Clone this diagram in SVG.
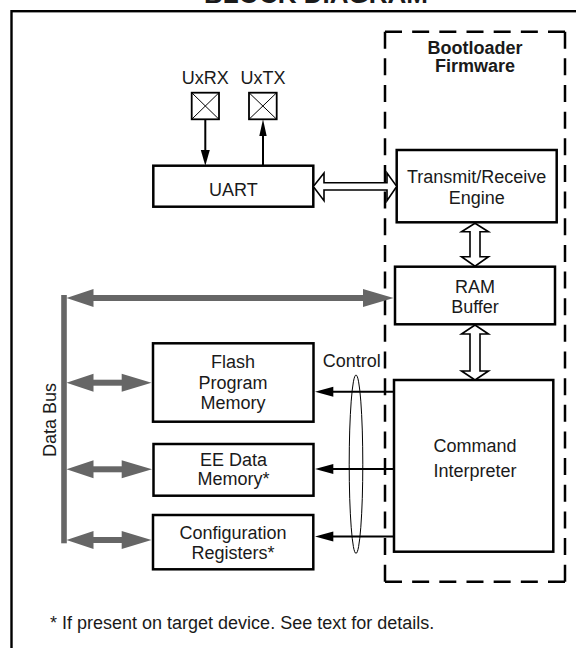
<svg xmlns="http://www.w3.org/2000/svg" width="576" height="648" viewBox="0 0 576 648">
<style>
text{font-family:"Liberation Sans",Arial,sans-serif;font-size:18px;fill:#1a1a1a;text-anchor:middle}
.b{font-weight:bold}
.box{fill:#fff;stroke:#000;stroke-width:2.5}
.pin{fill:#fff;stroke:#000;stroke-width:1.8}
.x{stroke:#000;stroke-width:1}
.ln{stroke:#000;stroke-width:2;fill:none}
.hol{fill:#fff;stroke:#000;stroke-width:1.6;stroke-linejoin:miter}
.gray{fill:#666;stroke:none}
.dash{fill:none;stroke:#000;stroke-width:2.5}
</style>
<rect width="576" height="648" fill="#fff"/>
<text class="b" x="316" y="3" style="font-size:26px">BLOCK DIAGRAM</text>
<rect x="11.5" y="11.2" width="620" height="700" fill="none" stroke="#000" stroke-width="2.4"/>

<g id="bootloader">
<path class="dash" d="M385 31.7H565" stroke-dasharray="17 10.17"/>
<path class="dash" d="M565 31.7V581.7" stroke-dasharray="17 9.65"/>
<path class="dash" d="M565 581.7H385" stroke-dasharray="17 10.17"/>
<path class="dash" d="M385 581.7V31.7" stroke-dasharray="17 9.65"/>
<text class="b" x="475" y="53.5">Bootloader</text>
<text class="b" x="475" y="72">Firmware</text>
</g>

<g id="uxrx">
<rect class="pin" x="191.7" y="92.7" width="27.3" height="26.6"/>
<path class="x" d="M191.7 92.7L219 119.3M219 92.7L191.7 119.3"/>
<text x="205.3" y="83.5">UxRX</text>
</g>
<g id="uxtx">
<rect class="pin" x="249" y="92.7" width="27.7" height="26.6"/>
<path class="x" d="M249 92.7L276.7 119.3M276.7 92.7L249 119.3"/>
<text x="263" y="83.5">UxTX</text>
</g>

<g id="uart">
<rect class="box" x="153.3" y="165.7" width="160" height="41"/>
<text x="233.3" y="195.5">UART</text>
</g>

<g id="txrx">
<rect class="box" x="396.7" y="150" width="160" height="72.3"/>
<text x="476.7" y="182.5">Transmit/Receive</text>
<text x="476.7" y="204">Engine</text>
</g>

<g id="ram">
<rect class="box" x="395" y="266.7" width="160" height="57.6"/>
<text x="475" y="293.3">RAM</text>
<text x="475" y="312.7">Buffer</text>
</g>

<g id="cmd">
<rect class="box" x="394" y="380" width="159.3" height="171.7"/>
<text x="475" y="452">Command</text>
<text x="475" y="476.7">Interpreter</text>
</g>

<g id="flash">
<rect class="box" x="153" y="343.3" width="160.5" height="78.4"/>
<text x="233" y="368">Flash</text>
<text x="233" y="389">Program</text>
<text x="233" y="408.5">Memory</text>
</g>

<g id="eedata">
<rect class="box" x="153.5" y="444" width="160" height="51.7"/>
<text x="233.5" y="465.7">EE Data</text>
<text x="233.5" y="485.3">Memory*</text>
</g>

<g id="config">
<rect class="box" x="153" y="515" width="160.3" height="54.3"/>
<text x="233" y="538.5">Configuration</text>
<text x="233" y="558.5">Registers*</text>
</g>

<g id="databus">
<rect class="gray" x="61.2" y="295" width="5.6" height="248.3"/>
<text transform="translate(55.5 420) rotate(-90)">Data Bus</text>
</g>

<g id="connectors">
<!-- pin arrows -->
<path class="ln" d="M205.3 119.3V152"/>
<polygon points="200.8,150 209.8,150 205.3,165.7" fill="#000"/>
<path class="ln" d="M263 165.7V134"/>
<polygon points="259.3,136 266.7,136 263,119.3" fill="#000"/>

<!-- hollow arrow UART <-> Transmit/Receive -->
<polygon class="hol" points="313.3,186.4 324,173 324,182.7 387,182.7 387,173 396.7,186.4 387,200.7 387,190 324,190 324,200.7"/>

<!-- hollow arrow Transmit/Receive <-> RAM -->
<polygon class="hol" points="475,223.3 488.5,231.7 480,231.7 480,256.7 488.5,256.7 475,266.2 461.5,256.7 470,256.7 470,231.7 461.5,231.7"/>
<!-- hollow arrow RAM <-> Command -->
<polygon class="hol" points="475,325 488.5,334 480,334 480,371 488.5,371 475,380 461.5,371 470,371 470,334 461.5,334"/>

<!-- gray bus to RAM -->
<rect class="gray" x="92" y="295" width="272" height="6"/>
<polygon class="gray" points="66.5,298 93.5,289 93.5,307"/>
<polygon class="gray" points="393.5,298 363,289 363,307"/>

<!-- gray double arrows -->
<rect class="gray" x="92" y="379.7" width="31" height="6"/>
<polygon class="gray" points="66.5,382.7 93.5,373.7 93.5,391.7"/>
<polygon class="gray" points="151.5,382.7 121.7,373.7 121.7,391.7"/>
<rect class="gray" x="92" y="466.3" width="31" height="6"/>
<polygon class="gray" points="66.5,469.3 93.5,460.3 93.5,478.3"/>
<polygon class="gray" points="152,469.3 121.7,460.3 121.7,478.3"/>
<rect class="gray" x="92" y="537" width="31" height="6"/>
<polygon class="gray" points="66.5,540 93.5,531 93.5,549"/>
<polygon class="gray" points="151.5,540 121.7,531 121.7,549"/>

<!-- control lines -->
<path class="ln" d="M394 391.7H330"/>
<polygon points="315,391.7 333.3,386.7 333.3,396.7" fill="#000"/>
<path class="ln" d="M394 469H330"/>
<polygon points="315,469 333.3,464 333.3,474" fill="#000"/>
<path class="ln" d="M394 536.5H330"/>
<polygon points="315,536.5 333.3,531.5 333.3,541.5" fill="#000"/>
<ellipse cx="356" cy="464.2" rx="6.8" ry="89.2" fill="none" stroke="#000" stroke-width="1"/>
<text x="351.7" y="367.3">Control</text>
</g>

<text x="50" y="629" style="text-anchor:start">* If present on target device. See text for details.</text>
</svg>
